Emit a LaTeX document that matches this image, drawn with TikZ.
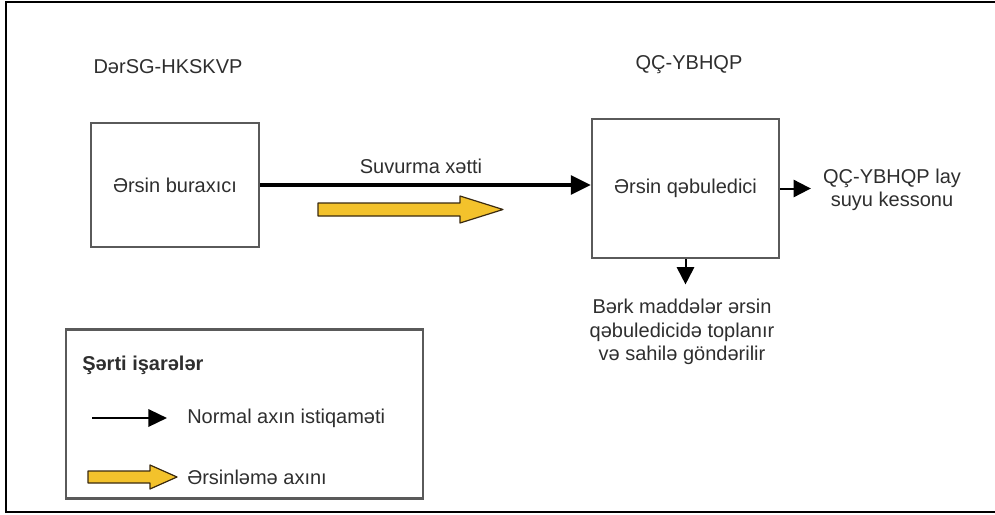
\documentclass[tikz,border=0pt]{standalone}
\usepackage{fontspec}
\setmainfont{Liberation Sans}
\usetikzlibrary{arrows.meta}

\definecolor{txtgray}{HTML}{2E2E2E}
\definecolor{boxgray}{HTML}{5A5A5A}
\definecolor{sedfill}{HTML}{F3C22C}
\definecolor{sededge}{HTML}{3A2A10}

% yellow sediment-flow arrow: #1 tail x, #2 neck x, #3 tip x, #4 centre y, #5 half body, #6 half head
\newcommand\sedflow[6]{%
  \fill[sedfill, draw=sededge, line width=0.9pt, line join=round]
    (#1,#4-#5) -- (#2,#4-#5) -- (#2,#4-#6) -- (#3,#4) -- (#2,#4+#6) -- (#2,#4+#5) -- (#1,#4+#5) -- cycle;}

\begin{document}
\begin{tikzpicture}[x=0.75pt,y=-0.75pt,
  lbl/.style={font=\fontsize{15}{17.5}\selectfont, text=txtgray, inner sep=0pt},
  procbox/.style={draw=boxgray, line width=1.6pt, inner sep=0pt, font=\fontsize{15}{17.5}\selectfont, text=txtgray},
  mainflow/.style={line width=2.8pt, -{Triangle[length=15pt,width=14pt]}},
  sideflow/.style={line width=1.5pt, -{Triangle[length=13pt,width=13pt]}},
]
\useasboundingbox (0,0) rectangle (995,514);

% outer frame (open on the right)
\draw[line width=1.6pt] (1000,2) -- (6,2) -- (6,512) -- (1000,512);

% station captions
\node[lbl] (capL) at (168,67) {DərSG-HKSKVP};
\node[lbl] (capR) at (689,65) {QÇ-YBHQP};

% process boxes
\node[procbox, minimum width=126pt, minimum height=93pt] (sender) at (175,185) {Ərsin buraxıcı};
\node[procbox, minimum width=140.25pt, minimum height=104.25pt] (receiver) at (685.5,188.5) {Ərsin qəbuledici};

% pipeline between the boxes
\draw[mainflow] (sender.east) -- (sender.east -| receiver.west);
\node[lbl] (pipe) at (421,166) {Suvurma xətti};
\sedflow{318}{460}{503}{209.5}{6.5}{13.5}

% outlet to the caisson
\node[lbl, align=center, inner xsep=9pt] (caisson) at (892,190) {QÇ-YBHQP lay\\suyu kessonu};
\draw[sideflow] (receiver.east) -- (receiver.east -| caisson.west);

% solids removal
\node[lbl, align=center, inner ysep=11pt] (solids) at (682,332) {Bərk maddələr ərsin\\qəbuledicidə toplanır\\və sahilə göndərilir};
\draw[sideflow] (receiver.south) -- (receiver.south |- solids.north);

% legend
\node[draw=boxgray, line width=1.6pt, minimum width=267.75pt, minimum height=126.75pt, inner sep=0pt] (legend) at (244.5,414) {};
\node[lbl, anchor=west, font=\fontsize{15}{17.5}\selectfont\bfseries] (legtitle) at (82,365) {Şərti işarələr};
\coordinate (lgA) at (92,418);
\coordinate (lgB) at (167,418);
\draw[line width=1.8pt, -{Triangle[length=14pt,width=13pt]}] (lgA) -- (lgB);
\node[lbl, anchor=west] (legnormal) at (187,418) {Normal axın istiqaməti};
\sedflow{88}{150}{177}{477}{6}{12}
\node[lbl, anchor=west] (legsed) at (187,477) {Ərsinləmə axını};
\end{tikzpicture}
\end{document}
